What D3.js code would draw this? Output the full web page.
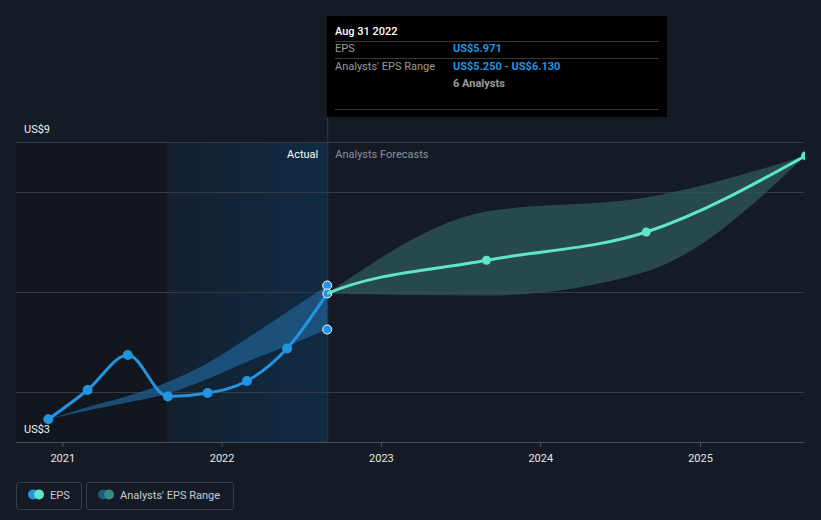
<!DOCTYPE html>
<html>
<head>
<meta charset="utf-8">
<script src="https://cdn.jsdelivr.net/npm/d3@7"></script>
<style>
  html, body { margin: 0; padding: 0; background: #151b25; }
  svg { display: block; font-family: Roboto, "Noto Sans", sans-serif; }
</style>
</head>
<body>
<svg id="chart" width="821" height="520"></svg>
<script>
// ---- data ----
const actualDates = ["2020-11-30","2021-02-28","2021-05-31","2021-08-31","2021-11-30","2022-02-28","2022-05-31","2022-08-31"];
const actualEps   = [3.454, 4.04, 4.74, 3.91, 3.98, 4.22, 4.87, 5.971];
const pastRangeLow  = [3.454, 3.63, 3.79, 3.97, 4.26, 4.60, 4.92, 5.25];
const pastRangeHigh = [3.454, 3.70, 3.92, 4.20, 4.58, 5.07, 5.60, 6.13];

const forecastDates = ["2022-08-31","2023-08-31","2024-08-31","2025-08-31"];
const forecastEps   = [5.971, 6.634, 7.20, 8.726];
const forecastLow   = [5.971, 5.93, 6.41, 8.726];
const forecastHigh  = [5.971, 7.61, 7.89, 8.726];

const yearTicks = ["2021","2022","2023","2024","2025"];
const gridValues = [4, 6, 8, 9];
const yLabels = [{v: 9, t: "US$9"}, {v: 3, t: "US$3"}];

const tooltipDate = "Aug 31 2022";
const tooltipEps = "US$5.971";
const tooltipRange = "US$5.250 - US$6.130";
const tooltipAnalysts = "6 Analysts";

// ---- setup ----
const parse = d3.timeParse("%Y-%m-%d");
const svg = d3.select("#chart");
const plotL = 16, plotR = 804, plotT = 142, plotB = 442;

const x = d3.scaleTime()
  .domain([parse("2021-01-01"), parse("2025-01-01")])
  .range([62.3, 700]);
const y = d3.scaleLinear().domain([3, 9]).range([plotB, plotT]);

const actual = actualDates.map((d, i) => ({date: parse(d), v: actualEps[i], lo: pastRangeLow[i], hi: pastRangeHigh[i]}));
const forecast = forecastDates.map((d, i) => ({date: parse(d), v: forecastEps[i], lo: forecastLow[i], hi: forecastHigh[i]}));

const startHL = parse("2021-08-31"), endHL = parse("2022-08-31");

const defs = svg.append("defs");
const grad = defs.append("linearGradient").attr("id", "hl").attr("x1", "0").attr("x2", "1");
grad.append("stop").attr("offset", "0").attr("stop-color", "#132030");
grad.append("stop").attr("offset", "1").attr("stop-color", "#112b43");
defs.append("clipPath").attr("id", "clip").append("rect")
  .attr("x", plotL).attr("y", 0).attr("width", plotR - plotL + 1).attr("height", plotB);
defs.append("clipPath").attr("id", "clipF").append("rect")
  .attr("x", x(endHL)).attr("y", 0).attr("width", plotR - x(endHL) + 1).attr("height", plotB);

// dark past region
svg.append("rect").attr("x", plotL).attr("y", plotT)
  .attr("width", x(startHL) - plotL).attr("height", plotB - plotT).attr("fill", "#12161e");
// highlighted actual region
svg.append("rect").attr("x", x(startHL)).attr("y", plotT)
  .attr("width", x(endHL) - x(startHL)).attr("height", plotB - plotT).attr("fill", "url(#hl)");
svg.append("line").attr("x1", x(startHL)).attr("x2", x(startHL)).attr("y1", plotT).attr("y2", plotB)
  .attr("stroke", "#1a2532").attr("stroke-width", 1);

// gridlines
svg.append("g").selectAll("line").data(gridValues).join("line")
  .attr("x1", plotL).attr("x2", plotR)
  .attr("y1", d => Math.round(y(d)) + 0.5).attr("y2", d => Math.round(y(d)) + 0.5)
  .attr("stroke", "#353b46").attr("stroke-width", 1);

// x axis
const xAxis = d3.axisBottom(x)
  .tickValues(yearTicks.map(t => parse(t + "-01-01")))
  .tickFormat(d3.timeFormat("%Y"))
  .tickSize(5).tickSizeOuter(0);
const gx = svg.append("g").attr("transform", `translate(0,${plotB})`).call(xAxis);
gx.select(".domain").remove();
gx.selectAll(".tick line").attr("stroke", "#4a505a");
gx.selectAll(".tick text").attr("fill", "#e8e8e8").attr("font-size", 11).attr("dy", "1.05em")
  .attr("font-family", "Roboto, sans-serif");
svg.append("line").attr("x1", plotL).attr("x2", plotR).attr("y1", plotB + 0.5).attr("y2", plotB + 0.5)
  .attr("stroke", "#4a505a");

// y labels
svg.append("g").selectAll("text").data(yLabels).join("text")
  .attr("x", 24).attr("y", d => y(d.v) - 9)
  .attr("fill", "#f0f0f0").attr("font-size", 11).text(d => d.t);

// vertical "now" line
svg.append("line").attr("x1", x(endHL) + 0.5).attr("x2", x(endHL) + 0.5).attr("y1", 117).attr("y2", plotB)
  .attr("stroke", "#2b3a4b").attr("stroke-width", 1);

// section labels
svg.append("text").attr("x", x(endHL) - 9).attr("y", 158).attr("text-anchor", "end")
  .attr("fill", "#ffffff").attr("font-size", 11).text("Actual");
svg.append("text").attr("x", x(endHL) + 8).attr("y", 158)
  .attr("fill", "#8a9099").attr("font-size", 11).text("Analysts Forecasts");

const g = svg.append("g").attr("clip-path", "url(#clip)");

// bands
const area = d3.area().x(d => x(d.date)).y0(d => y(d.lo)).y1(d => y(d.hi)).curve(d3.curveMonotoneX);
g.append("path").datum(actual).attr("d", area).attr("fill", "#1f5f90").attr("fill-opacity", 0.75);
g.append("path").datum(forecast).attr("d", area).attr("fill", "#2f5a57").attr("fill-opacity", 0.75);

// lines
const line = d3.line().x(d => x(d.date)).y(d => y(d.v)).curve(d3.curveMonotoneX);
// forecast line continues the curve from the last actual quarters; clipped to the forecast side
svg.append("g").attr("clip-path", "url(#clipF)").append("path")
  .datum([actual[actual.length - 2]].concat(forecast)).attr("d", line).attr("fill", "none")
  .attr("stroke", "#5de6c8").attr("stroke-width", 3);
g.append("path").datum(actual).attr("d", line).attr("fill", "none")
  .attr("stroke", "#2394df").attr("stroke-width", 3);

// points
g.selectAll(".fp").data(forecast.slice(1)).join("circle")
  .attr("cx", d => x(d.date)).attr("cy", d => y(d.v)).attr("r", 4.5).attr("fill", "#5de6c8");
g.selectAll(".ap").data(actual.slice(0, -1)).join("circle")
  .attr("cx", d => x(d.date)).attr("cy", d => y(d.v)).attr("r", 5).attr("fill", "#2394df");
const last = actual[actual.length - 1];
g.selectAll(".lp").data([last.hi, last.lo, last.v]).join("circle")
  .attr("cx", x(last.date)).attr("cy", d => y(d)).attr("r", 4.5)
  .attr("fill", "#2394df").attr("stroke", "#ffffff").attr("stroke-width", 1);

// tooltip
const tt = svg.append("g");
tt.append("rect").attr("x", 327).attr("y", 16).attr("width", 340).attr("height", 101).attr("fill", "#000000");
[41.5, 58.5, 109.5].forEach(yy => tt.append("line").attr("x1", 335).attr("x2", 659)
  .attr("y1", yy).attr("y2", yy).attr("stroke", "#3a3a3a"));
tt.append("text").attr("x", 335).attr("y", 35).attr("fill", "#ffffff").attr("font-size", 11)
  .attr("font-weight", 500).text(tooltipDate);
tt.append("text").attr("x", 335).attr("y", 52).attr("fill", "#9a9a9a").attr("font-size", 11).text("EPS");
tt.append("text").attr("x", 453).attr("y", 52).attr("fill", "#2394df").attr("font-size", 11)
  .attr("font-weight", 700).text(tooltipEps);
tt.append("text").attr("x", 335).attr("y", 69.5).attr("fill", "#9a9a9a").attr("font-size", 11).text("Analysts' EPS Range");
tt.append("text").attr("x", 453).attr("y", 69.5).attr("fill", "#2394df").attr("font-size", 11)
  .attr("font-weight", 700).text(tooltipRange);
tt.append("text").attr("x", 453).attr("y", 86.5).attr("fill", "#9a9a9a").attr("font-size", 11)
  .attr("font-weight", 700).text(tooltipAnalysts);

// legend
const legendItems = [
  {label: "EPS", c1: "#2394df", c2: "#5de6c8", x: 16, w: 66},
  {label: "Analysts' EPS Range", c1: "#1f5a86", c2: "#3a8a80", x: 86, w: 148}
];
const lg = svg.append("g");
legendItems.forEach(it => {
  const gg = lg.append("g").attr("transform", `translate(${it.x},482)`);
  gg.append("rect").attr("x", 0.5).attr("y", 0.5).attr("width", it.w - 1).attr("height", 27)
    .attr("rx", 3).attr("fill", "none").attr("stroke", "#3a404a");
  gg.append("circle").attr("cx", 17).attr("cy", 12.5).attr("r", 5).attr("fill", it.c1);
  gg.append("circle").attr("cx", 23).attr("cy", 12.5).attr("r", 5).attr("fill", it.c2);
  gg.append("text").attr("x", 34).attr("y", 16.5).attr("fill", "#c8ccd2").attr("font-size", 11).text(it.label);
});
</script>
</body>
</html>
